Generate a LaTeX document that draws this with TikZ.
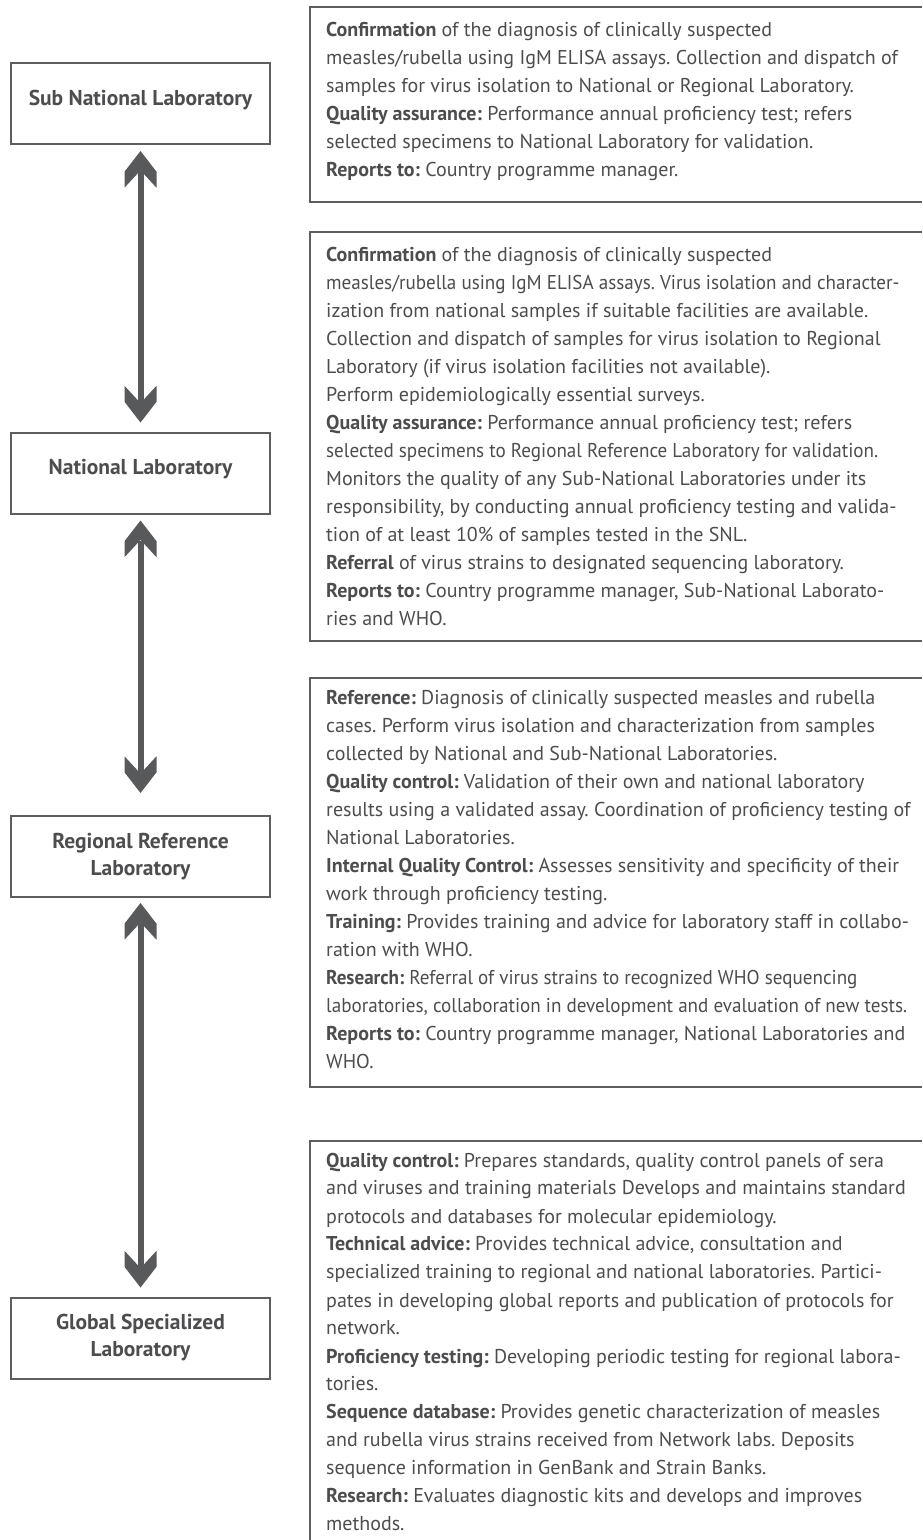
\documentclass[tikz,border=0pt]{standalone}
\usepackage{fontspec}
\setmainfont{PT Sans}
\newfontfamily\condfont[FakeStretch=0.955]{PT Sans}
\usetikzlibrary{arrows.meta}
\definecolor{linegray}{HTML}{5E5E60}
\definecolor{txtgray}{HTML}{4D4D4F}
\definecolor{arrgray}{HTML}{58595B}
\pgfdeclarearrow{
  name = Chev,
  setup code = {
    \pgfarrowssettipend{0pt}
    \pgfarrowssetlineend{-20pt}
    \pgfarrowssetvisualbackend{-36.7pt}
    \pgfarrowssetbackend{-36.7pt}
    \pgfarrowshullpoint{0pt}{0pt}
    \pgfarrowshullpoint{-36.7pt}{16pt}
    \pgfarrowshullpoint{-36.7pt}{-16pt}
  },
  drawing code = {
    \pgfpathmoveto{\pgfqpoint{0pt}{0pt}}
    \pgfpathlineto{\pgfqpoint{-20.7pt}{16pt}}
    \pgfpathlineto{\pgfqpoint{-36.7pt}{16pt}}
    \pgfpathlineto{\pgfqpoint{-19.4pt}{0pt}}
    \pgfpathlineto{\pgfqpoint{-36.7pt}{-16pt}}
    \pgfpathlineto{\pgfqpoint{-20.7pt}{-16pt}}
    \pgfpathclose
    \pgfusepathqfill
  }
}
\frenchspacing
\begin{document}
\begin{tikzpicture}[x=1pt,y=-1pt,
  labbox/.style={draw=linegray, line width=2pt, minimum width=259pt, minimum height=81pt,
    inner sep=0pt, align=center, text=txtgray, font=\bfseries\fontsize{21.5}{27}\selectfont},
  oneline/.style={text depth=12pt},
  desc/.style={anchor=north west, inner sep=0pt, align=left, text=txtgray,
    font=\frenchspacing\fontsize{20}{28}\selectfont},
  frame/.style={draw=linegray, line width=2pt},
  conn/.style={draw=arrgray, line width=6pt, {Chev}-{Chev}}
]
\useasboundingbox (0,0) rectangle (922,1540);
\fill[white] (0,0) rectangle (922,1540);

% left boxes
\node[labbox, oneline] (snl) at (140.5,103.5) {Sub National Laboratory};
\node[labbox, oneline] (nat) at (140.5,473) {National Laboratory};
\node[labbox] (reg) at (140.5,856.5) {Regional Reference\\Laboratory};
\node[labbox] (glo) at (140.5,1338) {Global Specialized\\Laboratory};

% connectors
\draw[conn, shorten <=6pt, shorten >=9pt] (snl) -- (nat);
\draw[conn, shorten <=6pt, shorten >=22pt] (nat) -- (reg);
\draw[conn, shorten <=5pt, shorten >=9pt] (reg) -- (glo);

% right frames
\draw[frame] (922,7) -- (310,7) -- (310,202) -- (922,202);
\draw[frame] (922,232) -- (310,232) -- (310,641) -- (922,641);
\draw[frame] (922,678) -- (310,678) -- (310,1087) -- (922,1087);
\draw[frame] (922,1141) -- (310,1141) -- (310,1540);

% right texts
\node[desc] (d1) at (326,22.5) {\textbf{Confirmation} of the diagnosis of clinically suspected\\
measles/rubella using IgM ELISA assays. Collection and dispatch of\\
samples for virus isolation to National or Regional Laboratory.\\
\textbf{Quality assurance:} Performance annual proficiency test; refers\\
selected specimens to National Laboratory for validation.\\
\textbf{Reports to:} Country programme manager.};

\node[desc] (d2) at (326,247.5) {\textbf{Confirmation} of the diagnosis of clinically suspected\\
{\condfont measles/rubella using IgM ELISA assays. Virus isolation and character-}\\
ization from national samples if suitable facilities are available.\\
Collection and dispatch of samples for virus isolation to Regional\\
Laboratory (if virus isolation facilities not available).\\
Perform epidemiologically essential surveys.\\
\textbf{Quality assurance:} Performance annual proficiency test; refers\\
{\condfont selected specimens to Regional Reference Laboratory for validation.}\\
Monitors the quality of any Sub-National Laboratories under its\\
responsibility, by conducting annual proficiency testing and valida-\\
tion of at least 10\% of samples tested in the SNL.\\
\textbf{Referral} of virus strains to designated sequencing laboratory.\\
\textbf{Reports to:} Country programme manager, Sub-National Laborato-\\
ries and WHO.};

\node[desc] (d3) at (326,690.5) {\textbf{Reference:} Diagnosis of clinically suspected measles and rubella\\
cases. Perform virus isolation and characterization from samples\\
collected by National and Sub-National Laboratories.\\
\textbf{Quality control:} Validation of their own and national laboratory\\
results using a validated assay. Coordination of proficiency testing of\\
National Laboratories.\\
\textbf{Internal Quality Control:} Assesses sensitivity and specificity of their\\
work through proficiency testing.\\
\textbf{Training:} Provides training and advice for laboratory staff in collabo-\\
ration with WHO.\\
{\condfont\textbf{Research:} Referral of virus strains to recognized WHO sequencing}\\
{\condfont laboratories, collaboration in development and evaluation of new tests.}\\
\textbf{Reports to:} Country programme manager, National Laboratories and\\
WHO.};

\node[desc] (d4) at (326,1152.5) {\textbf{Quality control:} Prepares standards, quality control panels of sera\\
and viruses and training materials Develops and maintains standard\\
protocols and databases for molecular epidemiology.\\
\textbf{Technical advice:} Provides technical advice, consultation and\\
specialized training to regional and national laboratories. Partici-\\
pates in developing global reports and publication of protocols for\\
network.\\
\textbf{Proficiency testing:} Developing periodic testing for regional labora-\\
tories.\\
\textbf{Sequence database:} Provides genetic characterization of measles\\
and rubella virus strains received from Network labs. Deposits\\
sequence information in GenBank and Strain Banks.\\
\textbf{Research:} Evaluates diagnostic kits and develops and improves\\
methods.};
\end{tikzpicture}
\end{document}
